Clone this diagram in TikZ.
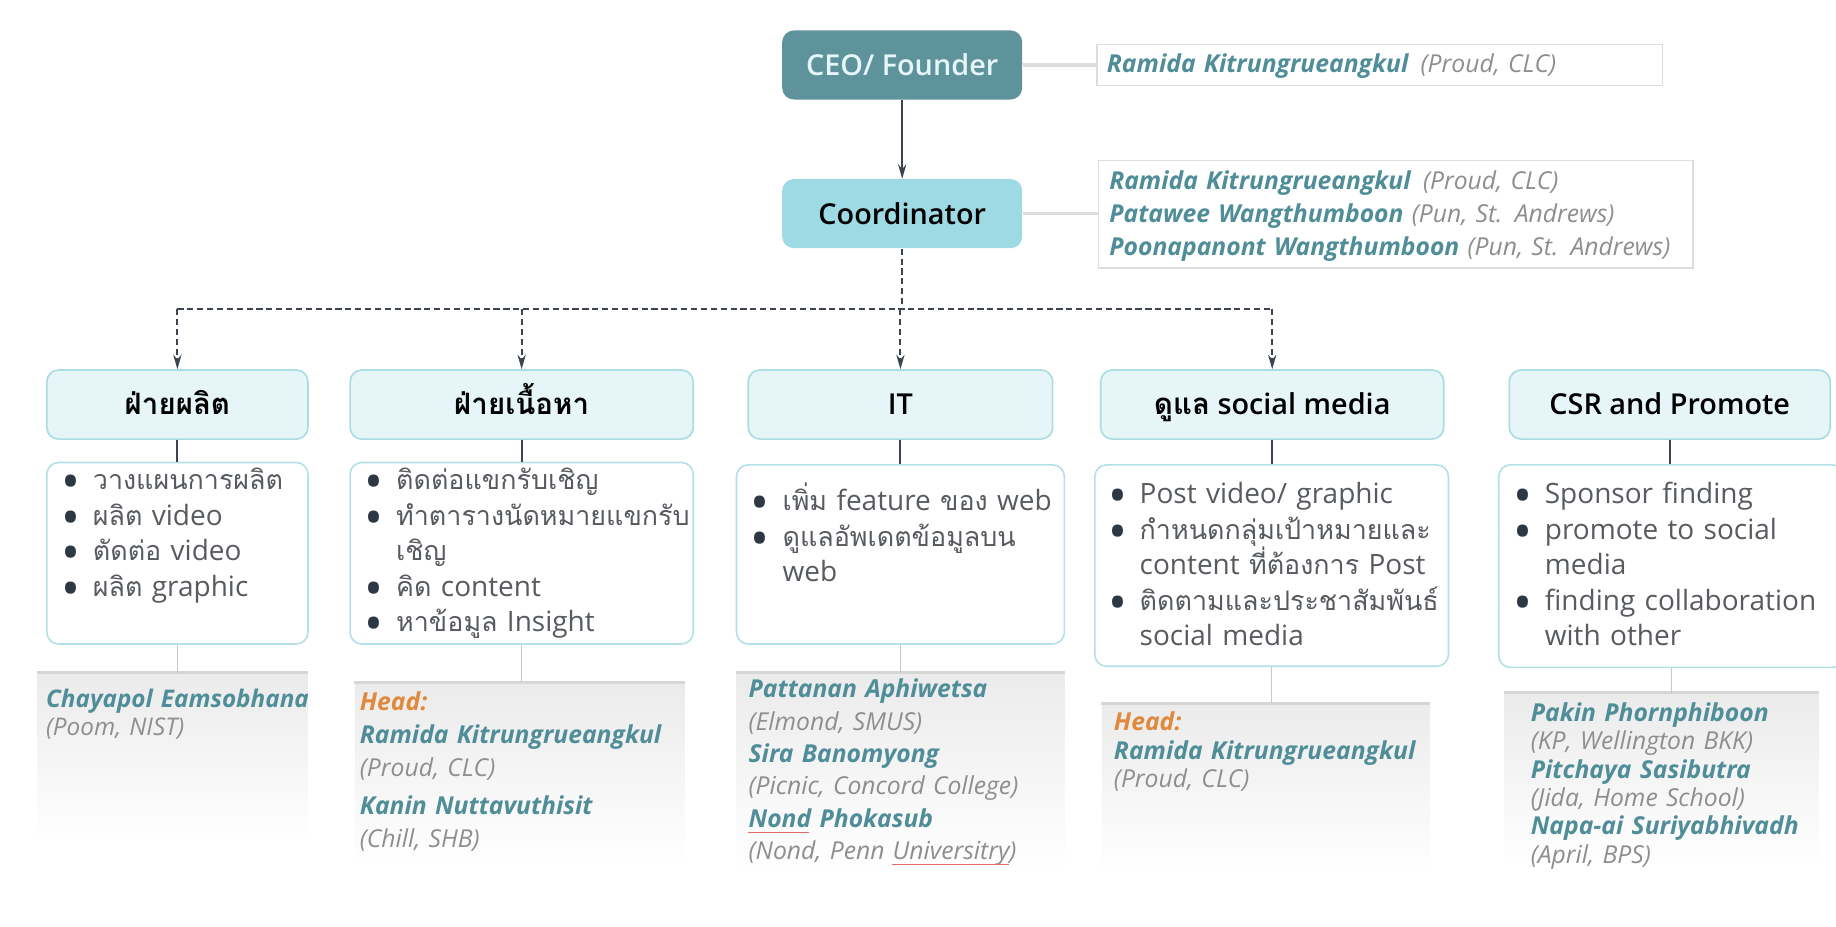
\documentclass[tikz,border=0pt]{standalone}
\usepackage{fontspec}
\setmainfont{Open Sans}
\newfontfamily\headfont{Open Sans Semibold}
\newfontfamily\thaifont[Script=Thai, Scale=0.96]{Loma}
\usepackage{tikz}
\usetikzlibrary{arrows, arrows.meta}

\definecolor{ceofill}{HTML}{5E939C}
\definecolor{ceotext}{HTML}{E6F7F9}
\definecolor{coordfill}{HTML}{9DDAE3}
\definecolor{deptfill}{HTML}{E5F5F8}
\definecolor{deptdraw}{HTML}{ABDCE4}
\definecolor{taskdraw}{HTML}{B4E1E8}
\definecolor{linkc}{HTML}{3C4452}
\definecolor{infodraw}{HTML}{DDDDDD}
\definecolor{memtop}{HTML}{EBEBEB}
\definecolor{memedge}{HTML}{D6D6D6}
\definecolor{memline}{HTML}{C8C8C8}
\definecolor{namec}{HTML}{4F8D98}
\definecolor{notec}{HTML}{8E8E8E}
\definecolor{headc}{HTML}{E0883C}
\definecolor{bodyc}{HTML}{575B60}
\definecolor{bulc}{HTML}{2E3744}
\definecolor{spellc}{HTML}{E86A6A}

\newcommand\thai[1]{{\thaifont #1}}
\newcommand\thaihead[1]{{\thaifont\bfseries\fontsize{14.9}{16}\selectfont #1}}
\newcommand\itm{\makebox[0.54cm][l]{\smash{\raisebox{-0.36em}{\scalebox{1.8}{\textcolor{bulc}{\textbullet}}}}}}
\newcommand\skipitm{\hspace*{0.54cm}}
\newcommand\pname[1]{{\bfseries\itshape\color{namec}#1}}
\newcommand\pnote[1]{{\itshape\color{notec}#1}}
\newcommand\phead[1]{{\bfseries\itshape\color{headc}#1}}

\begin{document}
\begin{tikzpicture}[
  topbox/.style={rounded corners=0.2cm, minimum width=4.10cm, minimum height=1.18cm,
    font=\headfont\fontsize{14}{16}\selectfont},
  deptbox/.style={draw=deptdraw, fill=deptfill, line width=0.8pt, rounded corners=0.2cm,
    minimum height=1.18cm, text height=12pt, text depth=2.6pt,
    font=\headfont\fontsize{14}{16}\selectfont},
  taskbox/.style={draw=taskdraw, fill=white, line width=0.8pt, rounded corners=0.2cm},
  membox/.style={top color=memtop, bottom color=white, inner sep=0pt},
  infobox/.style={draw=infodraw, line width=0.7pt},
  tasktext/.style={anchor=base west, inner sep=0pt, text width=6.2cm, align=left,
    text=bodyc, font=\fontsize{13.6}{17.3}\selectfont},
  memtext/.style={anchor=base west, inner sep=0pt, text width=10cm, align=left},
  solidlink/.style={draw=linkc, line width=1pt},
  dashlink/.style={draw=linkc, line width=1pt, dash pattern=on 3pt off 1.8pt},
  greylink/.style={draw=infodraw, line width=1.6pt},
  memlink/.style={draw=memline, line width=0.7pt},
  spell/.style={draw=spellc, line width=0.4pt}
]
  % Page
  \fill[white] (0,0) rectangle (31.36,15.82);
  \useasboundingbox (0,0) rectangle (31.36,15.82);

  % Coordinates
  \coordinate (split) at (15.41,10.54);

  % Top boxes
  \node[topbox, fill=ceofill, text=ceotext] (ceo) at (15.41,14.71) {CEO/ Founder};
  \node[topbox, fill=coordfill, text=black] (coord) at (15.41,12.17) {Coordinator};
  \node[infobox, minimum width=9.66cm, minimum height=0.70cm] (ceoinfo) at (23.57,14.71) {};
  \node[infobox, minimum width=10.16cm, minimum height=1.84cm] (coordinfo) at (23.84,12.16) {};

  \node[memtext, font=\fontsize{12}{15.9}\selectfont] (ceonames) at (18.90,14.58)
    {\pname{Ramida Kitrungrueangkul}\enspace\pnote{(Proud, CLC)}};
  \node[memtext, font=\fontsize{12}{15.9}\selectfont] (coordnames) at (18.94,12.58)
    {\pname{Ramida Kitrungrueangkul}\enspace\pnote{(Proud, CLC)}\\
     \pname{Patawee Wangthumboon} \pnote{(Pun, St. Andrews)}\\
     \pname{Poonapanont Wangthumboon} \pnote{(Pun, St. Andrews)}};

  % Departments
  \node[deptbox, minimum width=4.46cm] (d1) at (3.03,8.91) {\thaihead{ฝ่ายผลิต}};
  \node[deptbox, minimum width=5.86cm] (d2) at (8.91,8.91) {\thaihead{ฝ่ายเนื้อหา}};
  \node[deptbox, minimum width=5.20cm] (d3) at (15.38,8.91) {IT};
  \node[deptbox, minimum width=5.86cm] (d4) at (21.73,8.91) {\thaihead{ดูแล} social media};
  \node[deptbox, minimum width=5.48cm] (d5) at (28.52,8.91) {CSR and Promote};

  % Task boxes
  \node[taskbox, minimum width=4.46cm, minimum height=3.10cm] (t1) at (3.03,6.37) {};
  \node[taskbox, minimum width=5.86cm, minimum height=3.10cm] (t2) at (8.91,6.37) {};
  \node[taskbox, minimum width=5.60cm, minimum height=3.06cm] (t3) at (15.38,6.35) {};
  \node[taskbox, minimum width=6.04cm, minimum height=3.44cm] (t4) at (21.72,6.16) {};
  \node[taskbox, minimum width=5.90cm, minimum height=3.46cm] (t5) at (28.55,6.15) {};

  \node[tasktext] (l1) at (1.04,7.46)
    {\itm\thai{วางแผนการผลิต}\\ \itm\thai{ผลิต} video\\ \itm\thai{ตัดต่อ} video\\ \itm\thai{ผลิต} graphic};
  \node[tasktext] (l2) at (6.22,7.46)
    {\itm\thai{ติดต่อแขกรับเชิญ}\\ \itm\thai{ทำตารางนัดหมายแขกรับ}\\ \skipitm\thai{เชิญ}\\
     \itm\thai{คิด} content\\ \itm\thai{หาข้อมูล} Insight};
  \node[tasktext] (l3) at (12.82,7.10)
    {\itm\thai{เพิ่ม} feature \thai{ของ} web\\ \itm\thai{ดูแลอัพเดตข้อมูลบน}\\ \skipitm web};
  \node[tasktext] (l4) at (18.92,7.22)
    {\itm Post video/ graphic\\ \itm\thai{กำหนดกลุ่มเป้าหมายและ}\\ \skipitm content \thai{ที่ต้องการ} Post\\
     \itm\thai{ติดตามและประชาสัมพันธ์}\\ \skipitm social media};
  \node[tasktext] (l5) at (25.84,7.22)
    {\itm Sponsor finding\\ \itm promote to social\\ \skipitm media\\
     \itm finding collaboration\\ \skipitm with other};

  % Member boxes
  \node[membox, minimum width=4.62cm, minimum height=2.90cm] (m1) at (2.95,2.87) {};
  \node[membox, minimum width=5.64cm, minimum height=3.14cm] (m2) at (8.88,2.59) {};
  \node[membox, minimum width=5.60cm, minimum height=3.40cm] (m3) at (15.38,2.62) {};
  \node[membox, minimum width=5.60cm, minimum height=2.88cm] (m4) at (21.62,2.36) {};
  \node[membox, minimum width=5.36cm, minimum height=2.96cm] (m5) at (28.38,2.50) {};
  \foreach \m in {m1,m2,m3,m4,m5}
    \draw[draw=memedge, line width=1.5pt] (\m.north west) -- (\m.north east);

  \node[memtext, font=\fontsize{11.8}{13.7}\selectfont] (n1) at (0.78,3.74)
    {\pname{Chayapol Eamsobhana}\\ \pnote{(Poom, NIST)}};
  \node[memtext, font=\fontsize{12}{15.9}\selectfont] (n2) at (6.14,3.68)
    {\phead{Head:}\\ \pname{Ramida Kitrungrueangkul}\\ \pnote{(Proud, CLC)}\\[2.8pt]
     \pname{Kanin Nuttavuthisit}\\ \pnote{(Chill, SHB)}};
  \node[memtext, font=\fontsize{12}{15.7}\selectfont] (n3) at (12.78,3.90)
    {\pname{Pattanan Aphiwetsa}\\ \pnote{(Elmond, SMUS)}\\ \pname{Sira Banomyong}\\
     \pnote{(Picnic, Concord College)}\\ \pname{Nond Phokasub}\\ \pnote{(Nond, Penn Universitry)}};
  \node[memtext, font=\fontsize{12}{13.9}\selectfont] (n4) at (19.02,3.34)
    {\phead{Head:}\\ \pname{Ramida Kitrungrueangkul}\\ \pnote{(Proud, CLC)}};
  \node[memtext, font=\fontsize{12}{13.8}\selectfont] (n5) at (26.14,3.50)
    {\pname{Pakin Phornphiboon}\\ \pnote{(KP, Wellington BKK)}\\ \pname{Pitchaya Sasibutra}\\
     \pnote{(Jida, Home School)}\\ \pname{Napa-ai Suriyabhivadh}\\ \pnote{(April, BPS)}};

  % spell-check marks
  \draw[spell] (12.78,1.60) -- (13.82,1.60);
  \draw[spell] (15.24,1.05) -- (17.24,1.05);

  % Links
  \draw[greylink] (ceo.east) -- (ceoinfo.west);
  \draw[greylink] (coord.east) -- (coord.east -| coordinfo.west);
  \draw[solidlink, -{Stealth[length=7pt, width=4pt]}] (ceo.south) -- (coord.north);

  \draw[dashlink] (coord.south) -- (split);
  \draw[dashlink] (d1.north |- split) -- (d4.north |- split);
  \foreach \d in {d1,d2,d3,d4}
    \draw[dashlink, -{Stealth[length=7pt, width=4pt]}] (\d.north |- split) -- (\d.north);

  \foreach \i in {1,...,5}
    \draw[solidlink] (d\i.south) -- (d\i.south |- t\i.north);
  \foreach \i in {1,...,5}
    \draw[memlink] (t\i.south) -- (t\i.south |- m\i.north);
\end{tikzpicture}
\end{document}
